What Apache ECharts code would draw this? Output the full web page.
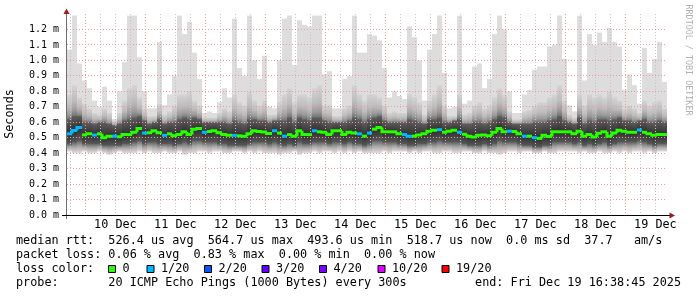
<!DOCTYPE html>
<html><head><meta charset="utf-8">
<script src="https://cdn.jsdelivr.net/npm/echarts@6/dist/echarts.min.js"></script>
<style>html,body{margin:0;padding:0;background:#fff}#c{width:697px;height:297px}</style>
</head><body><div id="c"></div>
<script>
// ---------------- data ----------------
const STEP_HOURS = 2;      // one smoke column = 2 hours
const SPAN_HOURS = 240;    // 10 days
const endStamp = Date.UTC(2025, 11, 19, 16, 38, 45);
const dayLabels = ['10 Dec','11 Dec','12 Dec','13 Dec','14 Dec','15 Dec','16 Dec','17 Dec','18 Dec','19 Dec'];
const yTicks = [0,0.1,0.2,0.3,0.4,0.5,0.6,0.7,0.8,0.9,1.0,1.1,1.2];

// smoke envelope (ms): max ping, upper band, dark-core top, median, dark-core bottom, min ping
const maxMs = [1.07,1.29,0.98,0.87,0.82,0.74,0.70,0.83,0.74,0.62,
 0.80,0.99,1.29,1.29,1.02,0.80,0.69,0.69,1.12,0.71,
 0.78,0.90,1.29,1.17,1.25,1.05,0.88,0.66,0.67,0.66,
 0.73,0.82,0.76,1.27,0.95,0.90,1.29,1.00,0.88,1.03,
 0.70,0.69,1.00,1.27,1.29,0.97,1.26,1.23,1.22,1.29,
 1.29,0.91,0.93,0.69,0.69,0.88,0.90,1.29,1.05,1.05,
 1.17,1.16,1.13,0.95,0.76,0.80,0.77,0.75,1.22,1.15,
 1.00,0.74,1.07,1.17,1.29,0.92,0.69,0.70,1.29,0.72,
 0.74,0.96,0.98,0.82,0.88,1.17,1.29,1.20,0.80,0.66,
 0.66,0.78,0.81,0.94,0.96,0.96,1.09,1.10,1.29,1.01,
 0.71,0.67,1.29,0.87,1.17,1.10,1.18,1.12,1.21,1.12,
 1.09,0.81,0.91,0.84,0.72,1.08,0.92,1.01,1.12,0.86];
const upMs = [0.78,0.84,0.76,0.72,0.69,0.66,0.65,0.69,0.66,0.61,
 0.66,0.74,0.82,0.84,0.76,0.69,0.64,0.64,0.72,0.65,
 0.67,0.71,0.78,0.78,0.80,0.74,0.71,0.63,0.63,0.63,
 0.66,0.69,0.67,0.78,0.73,0.71,0.80,0.74,0.71,0.74,
 0.65,0.65,0.73,0.78,0.82,0.73,0.78,0.78,0.76,0.82,
 0.84,0.71,0.71,0.64,0.64,0.69,0.71,0.84,0.78,0.74,
 0.78,0.78,0.76,0.71,0.66,0.67,0.66,0.66,0.78,0.76,
 0.73,0.65,0.74,0.78,0.84,0.71,0.64,0.64,0.78,0.65,
 0.66,0.71,0.73,0.69,0.71,0.76,0.82,0.78,0.67,0.62,
 0.62,0.67,0.68,0.71,0.73,0.73,0.76,0.78,0.84,0.74,
 0.65,0.63,0.78,0.71,0.78,0.76,0.78,0.76,0.80,0.76,
 0.74,0.69,0.71,0.69,0.66,0.74,0.71,0.73,0.74,0.69];
const hiMs = [0.62,0.64,0.64,0.60,0.60,0.59,0.60,0.60,0.59,0.58,
 0.59,0.61,0.62,0.63,0.64,0.61,0.59,0.60,0.62,0.59,
 0.60,0.60,0.62,0.63,0.62,0.63,0.62,0.60,0.60,0.60,
 0.60,0.60,0.59,0.61,0.60,0.59,0.62,0.62,0.61,0.61,
 0.60,0.61,0.61,0.61,0.63,0.60,0.63,0.62,0.61,0.63,
 0.63,0.61,0.60,0.60,0.60,0.60,0.61,0.63,0.62,0.60,
 0.62,0.63,0.64,0.61,0.60,0.60,0.60,0.60,0.62,0.61,
 0.60,0.59,0.62,0.62,0.63,0.60,0.60,0.61,0.62,0.59,
 0.59,0.60,0.60,0.59,0.60,0.62,0.64,0.63,0.60,0.59,
 0.59,0.59,0.59,0.60,0.60,0.60,0.61,0.62,0.64,0.61,
 0.60,0.59,0.63,0.59,0.61,0.60,0.62,0.62,0.61,0.62,
 0.63,0.61,0.61,0.60,0.61,0.62,0.60,0.60,0.61,0.60];
const medMs = [0.525,0.546,0.566,0.518,0.525,0.517,0.525,0.500,0.510,0.510,
 0.506,0.520,0.520,0.535,0.560,0.530,0.532,0.545,0.532,0.515,
 0.525,0.512,0.520,0.538,0.520,0.554,0.560,0.535,0.540,0.545,
 0.532,0.520,0.515,0.515,0.512,0.510,0.525,0.545,0.540,0.537,
 0.527,0.545,0.530,0.510,0.520,0.510,0.545,0.520,0.520,0.545,
 0.538,0.535,0.520,0.545,0.545,0.520,0.535,0.530,0.525,0.510,
 0.530,0.555,0.566,0.538,0.538,0.538,0.525,0.520,0.510,0.510,
 0.518,0.525,0.542,0.548,0.552,0.535,0.542,0.548,0.535,0.522,
 0.509,0.505,0.515,0.518,0.513,0.535,0.560,0.538,0.542,0.540,
 0.525,0.510,0.510,0.500,0.495,0.515,0.508,0.538,0.538,0.538,
 0.538,0.525,0.542,0.510,0.520,0.505,0.528,0.538,0.510,0.530,
 0.548,0.542,0.535,0.535,0.550,0.535,0.525,0.515,0.520,0.520];
const loMs = [0.46,0.47,0.48,0.46,0.46,0.46,0.46,0.45,0.45,0.45,
 0.45,0.46,0.46,0.47,0.48,0.46,0.47,0.47,0.46,0.46,
 0.46,0.45,0.46,0.47,0.46,0.48,0.48,0.47,0.47,0.47,
 0.46,0.46,0.45,0.45,0.45,0.45,0.46,0.47,0.47,0.47,
 0.46,0.47,0.46,0.45,0.46,0.45,0.47,0.46,0.46,0.47,
 0.47,0.47,0.46,0.47,0.47,0.46,0.47,0.46,0.46,0.45,
 0.46,0.48,0.48,0.47,0.47,0.47,0.46,0.46,0.45,0.45,
 0.46,0.46,0.47,0.47,0.48,0.47,0.47,0.47,0.47,0.46,
 0.45,0.45,0.45,0.46,0.45,0.46,0.48,0.47,0.47,0.47,
 0.46,0.45,0.45,0.44,0.44,0.45,0.45,0.47,0.47,0.47,
 0.47,0.46,0.47,0.45,0.46,0.45,0.46,0.47,0.45,0.46,
 0.47,0.47,0.47,0.47,0.48,0.47,0.46,0.45,0.46,0.46];
const minMs = [0.41,0.40,0.40,0.41,0.40,0.40,0.41,0.40,0.39,0.40,
 0.41,0.40,0.40,0.40,0.41,0.40,0.41,0.40,0.40,0.41,
 0.40,0.40,0.41,0.39,0.40,0.40,0.41,0.41,0.40,0.41,
 0.41,0.40,0.40,0.41,0.41,0.40,0.41,0.40,0.41,0.40,
 0.40,0.40,0.39,0.40,0.40,0.41,0.39,0.40,0.40,0.41,
 0.40,0.41,0.41,0.40,0.41,0.40,0.41,0.40,0.41,0.40,
 0.40,0.40,0.40,0.41,0.40,0.41,0.41,0.41,0.40,0.41,
 0.40,0.41,0.41,0.40,0.40,0.41,0.41,0.40,0.40,0.41,
 0.41,0.40,0.40,0.41,0.40,0.40,0.39,0.40,0.41,0.41,
 0.40,0.41,0.41,0.40,0.40,0.41,0.40,0.40,0.41,0.41,
 0.41,0.41,0.40,0.41,0.40,0.40,0.41,0.40,0.40,0.41,
 0.40,0.41,0.40,0.41,0.41,0.40,0.41,0.40,0.41,0.41];
// lost pings (out of 20) per column
const lossPings = [1,1,1,0,0,1,0,0,0,1,
 0,0,0,0,0,1,0,0,0,1,
 0,0,0,0,0,0,0,1,0,0,
 0,0,0,1,0,0,0,0,0,0,
 0,1,0,1,0,0,0,0,0,1,
 0,0,0,0,0,0,0,0,1,0,
 1,0,0,0,0,0,0,1,1,0,
 0,0,0,0,1,0,0,0,1,0,
 0,0,0,0,0,0,0,0,1,0,
 0,1,0,1,0,0,0,0,0,0,
 0,0,0,0,0,0,0,0,0,0,
 0,0,0,0,1,0,0,0,0,0];

const lossLevels = [0,1,2,3,4,10,19];
const lossLabels = ['0','1/20','2/20','3/20','4/20','10/20','19/20'];
const lossColors = ['#26ff00','#00b8ff','#0059ff','#5e00ff','#7e00ff','#dd00ff','#ff0000'];

const rttStats = ['526.4','564.7','493.6','518.7'];
const sdText = '0.0';
const amsText = '37.7';
const lossStats = ['0.06','0.83','0.00','0.00'];
const probeText = '20 ICMP Echo Pings (1000 Bytes) every 300s';
const endText = 'Fri Dec 19 16:38:45 2025';

// ---------------- derived time helpers ----------------
const startStamp = endStamp - SPAN_HOURS * 3600e3;
const hoursOf = t => (t - startStamp) / 3600e3;
const dayStartH = dayLabels.map((_, i) => hoursOf(Date.UTC(2025, 11, 10 + i)));
const noonH = dayStartH.map(h => h + 12);
const minorH = [];
[dayStartH[0] - 24].concat(dayStartH).forEach(d => [6, 12, 18].forEach(o => {
  const h = d + o; if (h > 0 && h < SPAN_HOURS) minorH.push(h);
}));

const MONO = '"DejaVu Sans Mono", monospace';
const Y_MAX = 1.3;
const MAJOR = '#ec9a9a', MINOR = '#c4c4c4';

const smokeData = maxMs.map((_, k) => [k * STEP_HOURS, maxMs[k]]);

function grad(stops) {
  return new echarts.graphic.LinearGradient(0, 0, 0, 1, stops.map(s => ({offset: s[0], color: s[1]})));
}

function smokeItem(params, api) {
  const k = params.dataIndex;
  const xa = api.coord([k * STEP_HOURS, 0])[0];
  const xb = api.coord([(k + 1) * STEP_HOURS, 0])[0];
  const Y = v => api.coord([0, v])[1];
  const w = xb - xa;
  const yMn = Y(minMs[k]), yLo = Y(loMs[k]), yMed = Y(medMs[k]), yHi = Y(hiMs[k]), yUp = Y(upMs[k]), yMx = Y(maxMs[k]);
  const m = Math.min(0.95, Math.max(0.05, (yMed - yHi) / (yLo - yHi)));
  return {type: 'group', children: [
    {type: 'rect', shape: {x: xa, y: yMx, width: w, height: yUp - yMx + 0.6}, style: {fill: '#dddddd'}},
    {type: 'rect', shape: {x: xa, y: yUp, width: w, height: yHi - yUp + 0.6},
      style: {fill: grad([[0, '#d4d4d4'], [0.5, '#bcbcbc'], [0.8, '#9a9a9a'], [1, '#6c6c6c']])}},
    {type: 'rect', shape: {x: xa, y: yHi, width: w, height: yLo - yHi + 0.6},
      style: {fill: grad([[0, '#5e5e5e'], [m, '#2e2e2e'], [1, '#5a5a5a']])}},
    {type: 'rect', shape: {x: xa, y: yLo, width: w, height: yMn - yLo},
      style: {fill: grad([[0, '#646464'], [0.45, '#a8a8a8'], [1, '#e0e0e0']])}}
  ]};
}

function vGridItem(list, color) {
  return function (params, api) {
    const h = list[params.dataIndex];
    const x = Math.floor(api.coord([h, 0])[0]) + 0.5;
    const yTop = api.coord([h, Y_MAX])[1], yBot = api.coord([h, 0])[1];
    return {type: 'line', shape: {x1: x, y1: yTop, x2: x, y2: yBot},
      style: {stroke: color, lineWidth: 1, lineDash: [1, 2]}};
  };
}
function hGridItem(params, api) {
  const v = yTicks[params.dataIndex + 1];
  const y = Math.floor(api.coord([0, v])[1]) + 0.5;
  const xa = api.coord([0, v])[0], xb = api.coord([SPAN_HOURS, v])[0];
  return {type: 'line', shape: {x1: xa, y1: y, x2: xb, y2: y},
    style: {stroke: MAJOR, lineWidth: 1, lineDash: [1, 2]}};
}

function medianItem(params, api) {
  const k = params.dataIndex;
  const xa = api.coord([k * STEP_HOURS, 0])[0];
  const xb = api.coord([(k + 1) * STEP_HOURS, 0])[0];
  const Y = v => api.coord([0, v])[1];
  const color = lossColors[lossLevels.indexOf(lossPings[k])];
  const pts = [];
  if (k > 0 && lossPings[k - 1] === lossPings[k]) pts.push([xa, Y(medMs[k - 1])]);
  pts.push([xa, Y(medMs[k])], [xb, Y(medMs[k])]);
  return {type: 'polyline', shape: {points: pts},
    style: {stroke: color, lineWidth: 3, fill: null, lineJoin: 'miter', lineCap: 'butt'}};
}

// ---------------- legend graphics ----------------
const txt = (x, y, s, extra) => Object.assign({type: 'text', x: x, y: y, z: 20,
  style: Object.assign({text: s, font: '11.8px ' + MONO, fill: '#000',
    textVerticalAlign: 'middle', verticalAlign: 'middle'}, extra || {})});

const line1 = 'median rtt:  ' + rttStats[0] + ' us avg  ' + rttStats[1] + ' us max  ' + rttStats[2] +
  ' us min  ' + rttStats[3] + ' us now  ' + sdText + ' ms sd  ' + amsText + '   am/s';
const line2 = 'packet loss: ' + lossStats[0] + ' % avg  ' + lossStats[1] + ' % max  ' + lossStats[2] +
  ' % min  ' + lossStats[3] + ' % now';
const line4 = 'probe:       ' + probeText;

const sqX = [108.5, 147, 204.5, 262, 319.5, 378, 442];
const graphics = [
  txt(16, 241, line1), txt(16, 255, line2), txt(16, 269, 'loss color:'), txt(16, 283, line4),
  txt(681, 283, 'end: ' + endText, {textAlign: 'right', align: 'right'}),
  {type: 'text', x: 10, y: 114, rotation: Math.PI / 2, z: 20,
    style: {text: 'Seconds', font: '11.8px ' + MONO, fill: '#000', textAlign: 'center', align: 'center',
      textVerticalAlign: 'middle', verticalAlign: 'middle'}},
  {type: 'text', x: 688.5, y: 60, rotation: -Math.PI / 2, z: 20,
    style: {text: 'RRDTOOL / TOBI OETIKER', font: '8.4px ' + MONO, fill: '#b0b0b0', textAlign: 'center', align: 'center',
      textVerticalAlign: 'middle', verticalAlign: 'middle'}},
  {type: 'line', z: 30, shape: {x1: 66.5, y1: 11, x2: 66.5, y2: 219}, style: {stroke: '#707070', lineWidth: 1}},
  {type: 'line', z: 30, shape: {x1: 62, y1: 215.5, x2: 670, y2: 215.5}, style: {stroke: '#000', lineWidth: 1}},
  {type: 'polygon', z: 31, shape: {points: [[66.5, 8.5], [63.5, 14], [69.5, 14]]}, style: {fill: '#9c1c1c'}},
  {type: 'polygon', z: 31, shape: {points: [[675, 215.5], [669.5, 212.5], [669.5, 218.5]]}, style: {fill: '#9c1c1c'}}
];
lossLabels.forEach((lab, i) => {
  graphics.push({type: 'rect', z: 20, shape: {x: sqX[i], y: 265.5, width: 7, height: 7},
    style: {fill: lossColors[i], stroke: '#000', lineWidth: 1}});
  graphics.push(txt(sqX[i] + 14, 269, lab));
});

// ---------------- chart ----------------
const chart = echarts.init(document.getElementById('c'), null, {renderer: 'canvas', width: 697, height: 297});
chart.setOption({
  animation: false,
  backgroundColor: '#ffffff',
  grid: {left: 67, top: 14, width: 600, height: 201, containLabel: false},
  xAxis: {
    type: 'value', min: 0, max: SPAN_HOURS,
    axisLine: {show: false}, axisTick: {show: false, customValues: noonH}, splitLine: {show: false},
    axisLabel: {customValues: noonH, fontFamily: MONO, fontSize: 11.8, color: '#000', margin: 4,
      formatter: v => { const i = noonH.findIndex(h => Math.abs(h - v) < 0.01); return i >= 0 ? dayLabels[i] : ''; }}
  },
  yAxis: {
    type: 'value', min: 0, max: Y_MAX, interval: 0.1,
    axisLine: {show: false}, axisTick: {show: false}, splitLine: {show: false},
    axisLabel: {fontFamily: MONO, fontSize: 10, color: '#000', margin: 8, showMaxLabel: false,
      formatter: v => (v > 1.25 ? '' : v.toFixed(1) + ' m')}
  },
  series: [
    {type: 'custom', name: 'smoke', z: 2, silent: true, data: smokeData, renderItem: smokeItem},
    {type: 'custom', name: 'minor', z: 3, silent: true, data: minorH.map(h => [h, 0]), renderItem: vGridItem(minorH, MINOR)},
    {type: 'custom', name: 'major', z: 3, silent: true, data: dayStartH.map(h => [h, 0]), renderItem: vGridItem(dayStartH, MAJOR)},
    {type: 'custom', name: 'hgrid', z: 3, silent: true, data: yTicks.slice(1).map(v => [0, v]), renderItem: hGridItem},
    {type: 'custom', name: 'median', z: 5, silent: true, data: medMs.map((v, k) => [k * STEP_HOURS, v]), renderItem: medianItem}
  ],
  graphic: graphics
});
</script>
</body></html>
